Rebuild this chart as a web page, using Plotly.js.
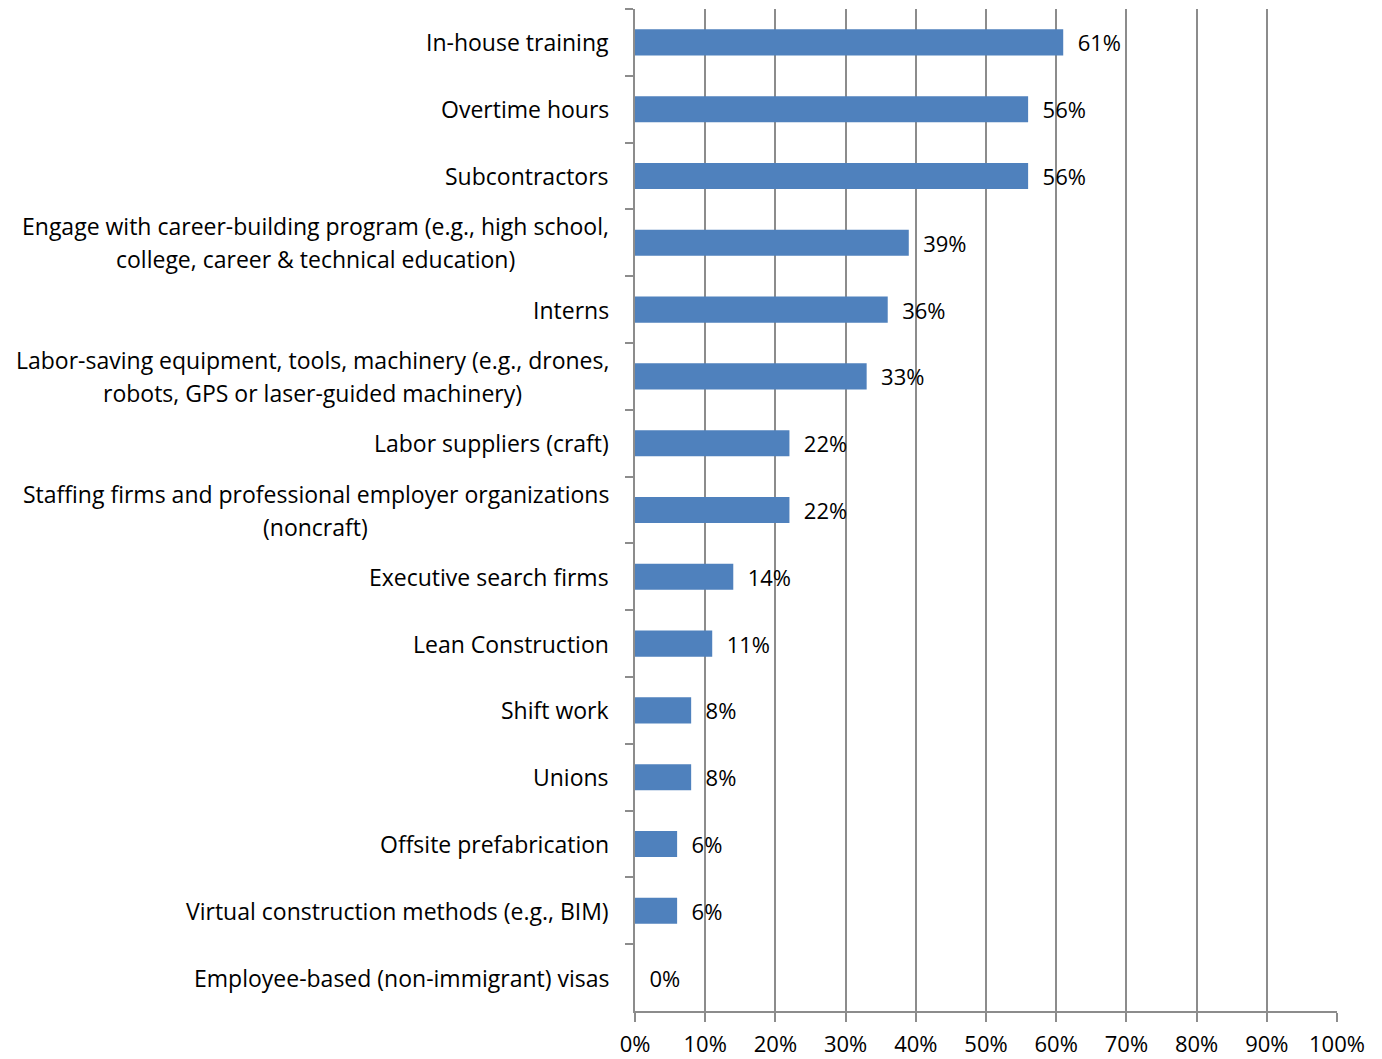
<!DOCTYPE html>
<html>
<head>
<meta charset="utf-8">
<script src="https://cdn.plot.ly/plotly-3.0.1.min.js"></script>
<style>html,body{margin:0;padding:0;background:#fff;}#chart{width:1382px;height:1059px;}</style>
</head>
<body>
<div id="chart"></div>
<script>
const categories = [
  "In-house training",
  "Overtime hours",
  "Subcontractors",
  "Engage with career-building program (e.g., high school,<br>college, career & technical education)",
  "Interns",
  "Labor-saving equipment, tools, machinery (e.g., drones,<br>robots, GPS or laser-guided machinery)",
  "Labor suppliers (craft)",
  "Staffing firms and professional employer organizations<br>(noncraft)",
  "Executive search firms",
  "Lean Construction",
  "Shift work",
  "Unions",
  "Offsite prefabrication",
  "Virtual construction methods (e.g., BIM)",
  "Employee-based (non-immigrant) visas"
];
const values = [61, 56, 56, 39, 36, 33, 22, 22, 14, 11, 8, 8, 6, 6, 0];
const valueLabels = values.map(v => "\u00a0\u00a0" + v + "%");
const xTickVals = [0,10,20,30,40,50,60,70,80,90,100];
const xTickText = xTickVals.map(v => v + "%");

const FONT = "Open Sans, sans-serif";
const FS = 23;
const GRID = "#8c8c8c";

const trace = {
  type: "bar",
  orientation: "h",
  y: categories,
  x: values,
  text: valueLabels,
  textposition: "outside",
  constraintext: "none",
  cliponaxis: false,
  textfont: {family: FONT, size: 22, color: "#000"},
  marker: {color: "#4F81BD"},
  width: 0.39,
  hoverinfo: "none"
};

const annotations = [];
const LINE = 33;
categories.forEach(c => {
  const lines = c.split("<br>");
  const n = lines.length;
  lines.forEach((ln, i) => {
    annotations.push({
      xref: "paper", yref: "y", x: 0, y: c,
      xanchor: "right", yanchor: "middle",
      xshift: -24, yshift: ((n - 1) / 2 - i) * LINE,
      text: ln, showarrow: false,
      font: {family: FONT, size: FS, color: "#000"}
    });
  });
});

const layout = {
  width: 1382, height: 1059,
  margin: {l: 635, r: 45, t: 9, b: 48},
  paper_bgcolor: "#fff", plot_bgcolor: "#fff",
  showlegend: false,
  bargap: 0.61,
  xaxis: {
    range: [0, 100],
    tickvals: xTickVals, ticktext: xTickText,
    showgrid: true, gridcolor: GRID, gridwidth: 2,
    showline: true, linecolor: GRID, linewidth: 2,
    ticks: "outside", ticklen: 9, tickcolor: GRID, tickwidth: 2,
    ticklabelstandoff: 4,
    tickfont: {family: FONT, size: 22, color: "#000"},
    zeroline: false, fixedrange: true
  },
  yaxis: {
    type: "category",
    autorange: "reversed",
    showticklabels: false,
    showline: true, linecolor: GRID, linewidth: 2,
    ticks: "outside", ticklen: 8, tickcolor: GRID, tickwidth: 2,
    tickson: "boundaries",
    showgrid: false, zeroline: false, fixedrange: true
  },
  annotations: annotations
};

Plotly.newPlot("chart", [trace], layout, {displayModeBar: false, staticPlot: true}).then(gd => {
  const anns = gd.layout.annotations;
  const groups = {};
  anns.forEach((a, idx) => { (groups[a.y] = groups[a.y] || []).push(idx); });
  const nodes = gd.querySelectorAll(".annotation");
  const widths = [];
  nodes.forEach(n => { const t = n.querySelector("text"); widths.push(t ? t.getBBox().width : 0); });
  const updates = {};
  Object.values(groups).forEach(idxs => {
    if (idxs.length < 2) return;
    const maxW = Math.max(...idxs.map(i => widths[i]));
    idxs.forEach(i => {
      updates["annotations[" + i + "].xshift"] = -24 - (maxW - widths[i]) / 2;
    });
  });
  if (Object.keys(updates).length) Plotly.relayout(gd, updates);
});
</script>
</body>
</html>
